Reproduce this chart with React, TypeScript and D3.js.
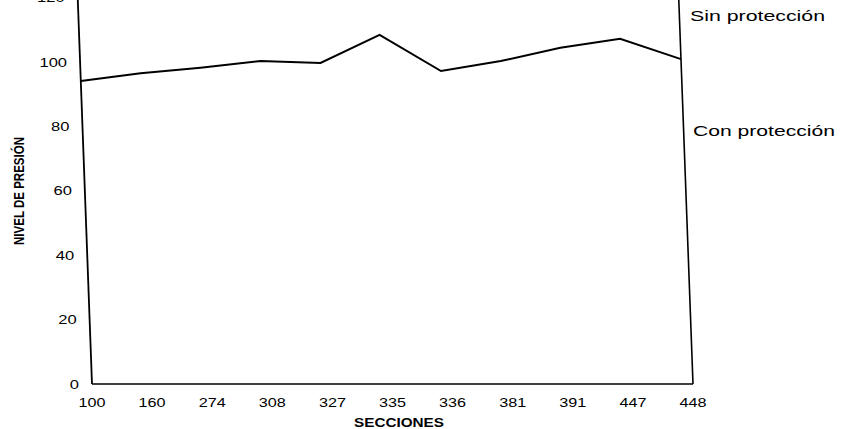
import React from "react";
import * as d3 from "d3";

const categories = ["100", "160", "274", "308", "327", "335", "336", "381", "391", "447", "448"];
const values = [94.1, 96.5, 98.2, 100.3, 99.7, 108.4, 97.2, 100.3, 104.4, 107.2, 100.9];
const yTicks = [0, 20, 40, 60, 80, 100, 120];
const yLabel = "NIVEL DE PRESIÓN";
const xLabel = "SECCIONES";
const sideLabels = ["Sin protección", "Con protección"];

const W = 841;
const H = 429;
const X0 = 92;
const X1 = 693;
const Y0 = 384;
const K = 0.037; // scan shear

export default function App() {
  const x = d3.scalePoint<string>().domain(categories).range([X0, X1]);
  const y = d3.scaleLinear().domain([0, 120]).range([Y0, Y0 - 386.4]);
  const sh = (px: number, py: number) => px - K * (Y0 - py);

  const pts = categories.map((c, i) => [sh(x(c)!, y(values[i])), y(values[i])] as [number, number]);
  const line = d3.line<[number, number]>()(pts) || "";

  const font = "'Liberation Sans', Arial, sans-serif";
  const topY = -10;

  return (
    <svg
      width={W}
      height={H}
      style={{ position: "absolute", left: 0, top: 0, background: "#fff" }}
      fontFamily={font}
    >
      <rect x={0} y={0} width={W} height={H} fill="#fff" />
      {/* axes */}
      <line x1={sh(X0, topY)} y1={topY} x2={X0} y2={Y0} stroke="#000" strokeWidth={1.8} />
      <line x1={sh(X1, topY)} y1={topY} x2={X1} y2={Y0} stroke="#000" strokeWidth={1.6} />
      <line x1={X0} y1={Y0} x2={X1} y2={Y0} stroke="#000" strokeWidth={1.6} />
      {/* line */}
      <path d={line} fill="none" stroke="#000" strokeWidth={2} strokeLinejoin="miter" />
      {/* y tick labels */}
      {yTicks.map((t) => {
        const ty = y(t);
        const s = String(t);
        return (
          <text
            key={t}
            x={sh(X0, ty) - 13}
            y={ty + 4.5}
            fontSize={13}
            textAnchor="end"
            textLength={9.2 * s.length}
            lengthAdjust="spacingAndGlyphs"
            fill="#000"
          >
            {s}
          </text>
        );
      })}
      {/* x tick labels */}
      {categories.map((c) => (
        <text
          key={c}
          x={x(c)!}
          y={407}
          fontSize={13}
          textAnchor="middle"
          textLength={27}
          lengthAdjust="spacingAndGlyphs"
          fill="#000"
        >
          {c}
        </text>
      ))}
      <text
        x={399}
        y={427}
        fontSize={12}
        fontWeight="bold"
        textAnchor="middle"
        textLength={90}
        lengthAdjust="spacingAndGlyphs"
        fill="#000"
      >
        {xLabel}
      </text>
      <text
        transform={`translate(24,191) rotate(-90)`}
        fontSize={14}
        fontWeight="bold"
        textAnchor="middle"
        textLength={108}
        lengthAdjust="spacingAndGlyphs"
        fill="#000"
      >
        {yLabel}
      </text>
      <text x={690} y={21} fontSize={15} textLength={135} lengthAdjust="spacingAndGlyphs" fill="#000">
        {sideLabels[0]}
      </text>
      <text x={693} y={136} fontSize={15} textLength={142} lengthAdjust="spacingAndGlyphs" fill="#000">
        {sideLabels[1]}
      </text>
    </svg>
  );
}
